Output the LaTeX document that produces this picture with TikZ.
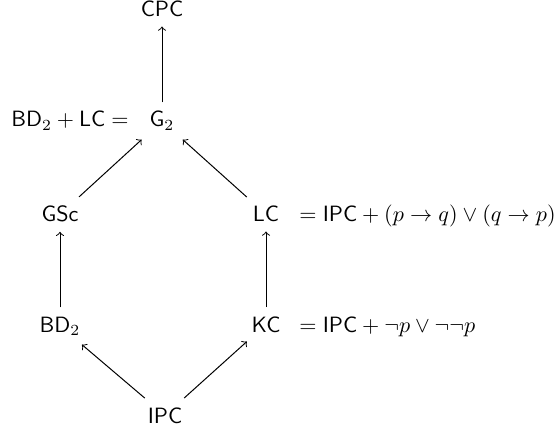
\documentclass[tikz,border=0pt]{standalone}
\usepackage{amsmath}
\begin{document}
\begin{tikzpicture}[x=0.452pt,y=-0.452pt,
  obj/.style={anchor=base,inner sep=4pt,font=\sffamily},
  eq/.style={inner sep=0pt},
  arr/.style={->,line width=0.45pt}]
\useasboundingbox (0,0) rectangle (560,432);
\node[obj] (cpc) at (162,17) {CPC};
\node[obj] (g2) at (162,127) {$\mathsf{G}_2$};
\node[obj] (gsc) at (60,222) {GSc};
\node[obj] (lc) at (266,222) {LC};
\node[obj] (bd2) at (60,332) {$\mathsf{BD}_2$};
\node[obj] (kc) at (266,332) {KC};
\node[obj] (ipc) at (165,423) {IPC};
\node[eq,anchor=base east] (lg2) at (129,127) {$\mathsf{BD}_2+\mathsf{LC}=$};
\node[eq,anchor=base west] (llc) at (299,222) {$=\mathsf{IPC}+(p\to q)\vee(q\to p)$};
\node[eq,anchor=base west] (lkc) at (299,332) {$=\mathsf{IPC}+\neg p\vee\neg\neg p$};
\draw[arr] (g2) -- (cpc);
\draw[arr] (gsc) -- (g2);
\draw[arr] (lc) -- (g2);
\draw[arr] (bd2) -- (gsc);
\draw[arr] (kc) -- (lc);
\draw[arr] (ipc) -- (bd2);
\draw[arr] (ipc) -- (kc);
\end{tikzpicture}
\end{document}
